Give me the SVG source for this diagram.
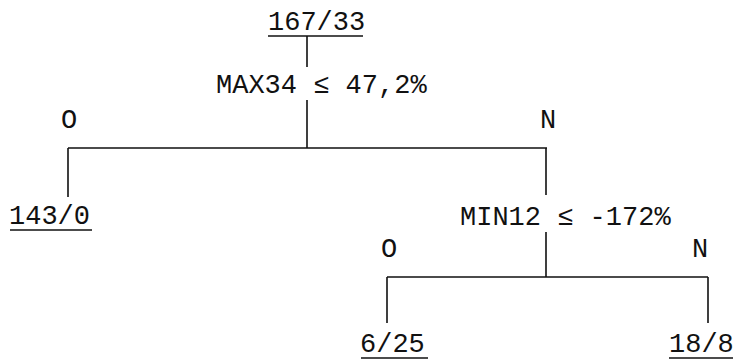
<svg xmlns="http://www.w3.org/2000/svg" width="736" height="362" viewBox="0 0 736 362">
<style>
text{font-family:"Liberation Mono","DejaVu Sans Mono",monospace;font-size:27px;fill:#111}
.l{stroke:#111;stroke-width:1.6;fill:none}
</style>
<rect width="736" height="362" fill="#fff"/>
<g id="connectors">
<path class="l" d="M307 36V67M307 100V148M68 148H547M68 148V197M546 148V195M546 232V277M387 277H708M387 277V323M708 277V323"/>
</g>
<g id="root">
<text x="268" y="30">167/33</text>
<line class="l" x1="268" y1="36" x2="363" y2="36"/>
</g>
<g id="split1"><text x="216" y="93">MAX34 ≤ 47,2%</text></g>
<g id="label-o1"><text x="61" y="128">O</text></g>
<g id="label-n1"><text x="540" y="128">N</text></g>
<g id="leaf1">
<text x="9" y="224">143/0</text>
<line class="l" x1="10" y1="230" x2="92" y2="230"/>
</g>
<g id="split2"><text x="460" y="225">MIN12 ≤ -172%</text></g>
<g id="label-o2"><text x="381" y="257">O</text></g>
<g id="label-n2"><text x="692" y="257">N</text></g>
<g id="leaf2">
<text x="360" y="352">6/25</text>
<line class="l" x1="361" y1="358" x2="428" y2="358"/>
</g>
<g id="leaf3">
<text x="669" y="352">18/8</text>
<line class="l" x1="669" y1="358" x2="733" y2="358"/>
</g>
</svg>
